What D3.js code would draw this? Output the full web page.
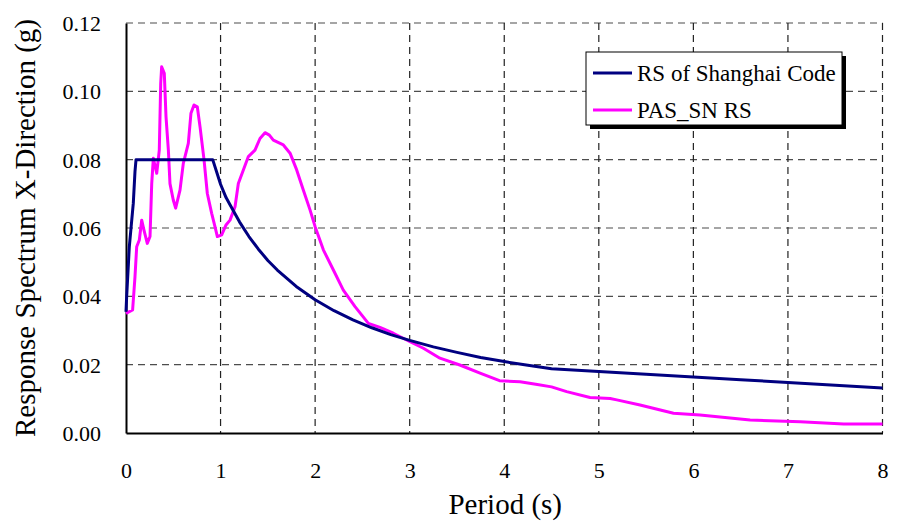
<!DOCTYPE html>
<html>
<head>
<meta charset="utf-8">
<script src="https://cdn.jsdelivr.net/npm/d3@7"></script>
<style>
  html, body { margin: 0; padding: 0; background: #fff; }
  svg { display: block; }
  text { font-family: "Liberation Serif", "Times New Roman", serif; fill: #000; }
</style>
</head>
<body>
<svg id="chart" width="901" height="522"></svg>
<script>
// ---- data ----
const seriesNames = ["RS of Shanghai Code", "PAS_SN RS"];
const xTicks = [0, 1, 2, 3, 4, 5, 6, 7, 8];
const yTicks = [0.00, 0.02, 0.04, 0.06, 0.08, 0.10, 0.12];

const codePeriod = [0, 0.007, 0.035, 0.077, 0.095, 0.106, 0.917, 1.0, 1.058, 1.1, 1.2, 1.3, 1.4, 1.5, 1.6, 1.8, 2.0, 2.2, 2.4, 2.6, 2.8, 3.0, 3.25, 3.5, 3.75, 4.0, 4.25, 4.5, 5.0, 5.5, 6.0, 6.5, 7.0, 7.5, 8.0];
const codeValue  = [0.0355, 0.040, 0.0545, 0.0672, 0.0765, 0.080, 0.080, 0.0728, 0.0689, 0.0668, 0.0618, 0.0575, 0.0538, 0.0505, 0.0477, 0.0429, 0.0390, 0.0358, 0.0331, 0.0308, 0.0288, 0.0271, 0.0252, 0.0236, 0.0221, 0.0209, 0.0198, 0.0188, 0.0180, 0.0172, 0.0164, 0.0156, 0.0148, 0.0140, 0.0132];

const pasPeriod = [0, 0.07, 0.095, 0.113, 0.141, 0.166, 0.19, 0.225, 0.254, 0.272, 0.289, 0.325, 0.352, 0.367, 0.377, 0.405, 0.423, 0.448, 0.465, 0.5, 0.525, 0.571, 0.606, 0.659, 0.687, 0.719, 0.754, 0.783, 0.825, 0.86, 0.906, 0.941, 0.966, 1.012, 1.058, 1.1, 1.153, 1.188, 1.241, 1.294, 1.364, 1.417, 1.47, 1.516, 1.558, 1.664, 1.735, 1.805, 1.875, 1.946, 2.0, 2.087, 2.193, 2.298, 2.422, 2.563, 2.686, 2.827, 3.004, 3.145, 3.32, 3.53, 3.744, 3.95, 4.167, 4.35, 4.5, 4.66, 4.907, 5.12, 5.19, 5.436, 5.79, 6.07, 6.6, 7.13, 7.59, 8.0];
const pasValue  = [0.035, 0.036, 0.0457, 0.0545, 0.0565, 0.0623, 0.0594, 0.0555, 0.0575, 0.073, 0.0804, 0.076, 0.0828, 0.1023, 0.1072, 0.1053, 0.0926, 0.0828, 0.073, 0.0682, 0.0658, 0.0711, 0.0789, 0.0848, 0.0936, 0.096, 0.0955, 0.0896, 0.080, 0.0701, 0.0643, 0.0604, 0.0575, 0.058, 0.0609, 0.0623, 0.0662, 0.073, 0.077, 0.0809, 0.0828, 0.0862, 0.0879, 0.0872, 0.0857, 0.0843, 0.0819, 0.077, 0.0711, 0.0653, 0.0604, 0.0536, 0.0477, 0.0418, 0.037, 0.0321, 0.0309, 0.0292, 0.0267, 0.0248, 0.0219, 0.0199, 0.0175, 0.0153, 0.0150, 0.0142, 0.0135, 0.0121, 0.0104, 0.0101, 0.0097, 0.0082, 0.0058, 0.0053, 0.0038, 0.0033, 0.0026, 0.0026];

const colors = ["#000080", "#ff00ff"];
const serif = '"Liberation Serif", "Times New Roman", serif';

// ---- layout ----
const svg = d3.select("#chart");
const mLeft = 126, mRight = 882.5, mTop = 23, mBottom = 433;

const x = d3.scaleLinear().domain([0, 8]).range([mLeft, mRight]);
const y = d3.scaleLinear().domain([0, 0.12]).range([mBottom, mTop]);

// gridlines
const grid = svg.append("g");
grid.selectAll("line.h").data(yTicks.filter(d => d > 0)).join("line")
  .attr("x1", mLeft).attr("x2", mRight)
  .attr("y1", d => y(d)).attr("y2", d => y(d))
  .attr("stroke", "#4d4d4d").attr("stroke-width", 1.2).attr("stroke-dasharray", "7,5");
grid.selectAll("line.v").data(xTicks.filter(d => d > 0)).join("line")
  .attr("y1", mTop).attr("y2", mBottom)
  .attr("x1", d => x(d)).attr("x2", d => x(d))
  .attr("stroke", "#222").attr("stroke-width", 1.2).attr("stroke-dasharray", "7,5");

// axes
const xAxis = d3.axisBottom(x).tickValues(xTicks).tickSize(0).tickPadding(0).tickFormat(d3.format("d"));
const gx = svg.append("g").attr("transform", `translate(0,${mBottom})`).call(xAxis)
  .attr("font-family", serif).attr("font-size", 22);
gx.select(".domain").attr("stroke", "#000").attr("stroke-width", 2);
gx.selectAll("text").attr("dy", null).attr("y", 45).attr("fill", "#000");

const yAxis = d3.axisLeft(y).tickValues(yTicks).tickSize(0).tickPadding(0).tickFormat(d3.format(".2f"));
const gy = svg.append("g").attr("transform", `translate(${mLeft},0)`).call(yAxis)
  .attr("font-family", serif).attr("font-size", 22);
gy.select(".domain").attr("stroke", "#000").attr("stroke-width", 2);
gy.selectAll("text").attr("x", -25).attr("dy", "0.34em").attr("fill", "#000");

// lines
const codeData = codePeriod.map((p, i) => [p, codeValue[i]]);
const pasData = pasPeriod.map((p, i) => [p, pasValue[i]]);
const line = d3.line().x(d => x(d[0])).y(d => y(d[1]));

svg.append("path").datum(pasData).attr("d", line)
  .attr("fill", "none").attr("stroke", colors[1]).attr("stroke-width", 3).attr("stroke-linejoin", "round");
svg.append("path").datum(codeData).attr("d", line)
  .attr("fill", "none").attr("stroke", colors[0]).attr("stroke-width", 3).attr("stroke-linejoin", "round");

// axis titles
svg.append("text").attr("x", (mLeft + mRight) / 2 + 1).attr("y", 514).attr("text-anchor", "middle")
  .attr("font-size", 29).text("Period (s)");
svg.append("text").attr("transform", `translate(35,${(mTop + mBottom) / 2}) rotate(-90)`)
  .attr("text-anchor", "middle").attr("font-size", 29).text("Response Spectrum X-Direction (g)");

// legend
const lg = svg.append("g");
const bx = 586, by = 52, bw = 256, bh = 73;
lg.append("rect").attr("x", bx + 4).attr("y", by + 4).attr("width", bw).attr("height", bh).attr("fill", "#000");
lg.append("rect").attr("x", bx).attr("y", by).attr("width", bw).attr("height", bh)
  .attr("fill", "#fff").attr("stroke", "#000").attr("stroke-width", 1);
seriesNames.forEach((name, i) => {
  const cy = by + 21 + i * 37;
  lg.append("line").attr("x1", 593).attr("x2", 632).attr("y1", cy).attr("y2", cy)
    .attr("stroke", colors[i]).attr("stroke-width", 3);
  lg.append("text").attr("x", 637).attr("y", cy).attr("dy", "0.35em").attr("font-size", 23).text(name);
});
</script>
</body>
</html>
